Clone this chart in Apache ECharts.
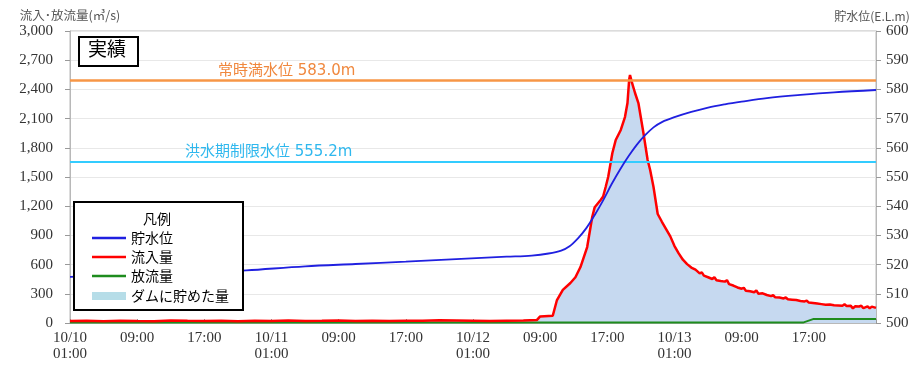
<!DOCTYPE html>
<html>
<head>
<meta charset="utf-8">
<script src="https://cdn.jsdelivr.net/npm/echarts@6/dist/echarts.min.js"></script>
<style>html,body{margin:0;padding:0;background:#fff}#c{width:922px;height:368px}</style>
</head>
<body>
<div id="c"></div>
<script>
// x = hours from 10/10 01:00
var xTickLabels = ['10/10\n01:00','09:00','17:00','10/11\n01:00','09:00','17:00','10/12\n01:00','09:00','17:00','10/13\n01:00','09:00','17:00',''];
var storageLevel = [[0,515.8],[6,516.4],[12,517.0],[18,517.6],[21,518.0],[28,519.4],[34,520.2],[40,521.0],[46,521.9],[52,522.7],[55,523.1],[57,523.8],[58.5,524.8],[59.5,526.3],[60.5,529.0],[61.5,532.5],[62.5,537.0],[63.5,542.0],[64.5,547.5],[65.5,552.5],[66.5,557.0],[67.5,561.0],[68.5,564.3],[69.5,567.0],[70.5,568.8],[72,570.5],[74,572.3],[76,573.8],[78,574.9],[80,575.8],[83,577.0],[87,578.1],[91,579.0],[96,579.8]];
var inflow = [[0,20],[2,22],[4,18],[6,24],[8,21],[10,19],[12,25],[14,22],[16,20],[18,23],[20,19],[22,24],[24,21],[26,25],[28,20],[30,22],[32,26],[34,21],[36,23],[38,20],[40,24],[42,22],[44,27],[46,25],[48,23],[50,21],[52,24],[54,26],[55.6,30],[56.0,68],[57.5,75],
 [58.0,236],[58.7,340],[59.6,411],[60.2,470],[60.8,575],[61.6,780],[62.2,1089],[62.5,1190],[63.2,1264],[63.5,1300],[63.8,1397],[64.1,1500],[64.3,1520],[64.6,1747],[65.0,1880],[65.6,1983],[66.1,2116],[66.4,2260],[66.6,2500],[66.7,2548],[66.9,2480],[67.1,2466],[67.3,2363],[67.7,2260],[68.3,1952],[68.8,1675],[69.1,1572],[69.5,1397],
 [70.0,1120],[70.5,1040],[71.0,965],[71.5,890],[72.0,790],[72.5,715],[73.0,650],[73.5,605],[74.0,570],[74.5,548],[75.0,510],[75.25,520],[75.5,486],[76.0,470],[76.5,452],[76.75,470],[77.0,440],[77.5,432],[78.0,425],[78.25,440],[78.5,400],[79.0,385],[79.5,365],[80.0,352],[80.25,362],[80.5,332],[81.0,326],[81.5,316],[81.75,335],[82.0,300],[82.5,305],[83.0,288],[83.5,276],[83.75,285],[84.0,264],[84.5,262],[85.0,252],[85.25,262],[85.5,244],[86.0,240],[86.5,236],[87.0,226],[87.5,222],[87.75,230],[88.0,210],[88.5,206],[89.0,200],[89.5,194],[90.0,188],[90.5,190],[91.0,182],[91.5,180],[92.0,178],[92.25,192],[92.5,175],[93.0,176],[93.25,150],[93.5,172],[94.0,170],[94.25,178],[94.5,152],[95.0,170],[95.25,150],[95.5,168],[96.0,155]];
var outflow = [[0,4],[87.3,4],[88.5,40],[96,41]];
var fullLevel = 583.0, floodLevel = 555.2;

var chart = echarts.init(document.getElementById('c'));
var serif = '"Liberation Serif","DejaVu Serif",serif';
var jp = '"Noto Sans CJK JP","Noto Sans",sans-serif';
var mlFont = '"DejaVu Sans","Noto Sans CJK JP",sans-serif';
chart.setOption({
  animation: false,
  grid: {left: 70, right: 46, top: 31, bottom: 45, show: true, borderColor: '#b8b8b8', borderWidth: 1},
  xAxis: {type: 'value', min: 0, max: 96, interval: 8,
    axisLine: {show: true, onZero: false, lineStyle: {color: '#b8b8b8'}},
    axisTick: {show: true, inside: true, length: 4, lineStyle: {color: '#999'}},
    splitLine: {show: false},
    axisLabel: {fontFamily: serif, fontSize: 15, color: '#333', lineHeight: 16, margin: 7, showMaxLabel: true,
      formatter: function (v) { return xTickLabels[Math.round(v / 8)] || ''; }}
  },
  yAxis: [
    {type: 'value', min: 0, max: 3000, interval: 300, name: '流入･放流量(㎥/s)', nameGap: 9,
      nameTextStyle: {fontFamily: jp, fontSize: 12.5, color: '#555', align: 'center'},
      axisLine: {show: true, lineStyle: {color: '#b8b8b8'}},
      axisTick: {show: true, length: 5, lineStyle: {color: '#999'}},
      splitLine: {lineStyle: {color: '#e8e8e8'}},
      axisLabel: {fontFamily: serif, fontSize: 15, color: '#333', margin: 17,
        formatter: function (v) { return v.toLocaleString('en-US'); }}
    },
    {type: 'value', min: 500, max: 600, interval: 10, name: '貯水位(E.L.m)', nameGap: 9,
      nameTextStyle: {fontFamily: jp, fontSize: 12, color: '#555', align: 'center', padding: [0, 0, 0, -8]},
      axisLine: {show: true, lineStyle: {color: '#b8b8b8'}},
      axisTick: {show: true, length: 5, lineStyle: {color: '#999'}},
      splitLine: {show: false},
      axisLabel: {fontFamily: serif, fontSize: 15, color: '#333', margin: 10}
    }
  ],
  legend: [
    {data: [{name: '貯水位', icon: 'rect'}, {name: '流入量', icon: 'rect'}, {name: '放流量', icon: 'rect'}],
      orient: 'vertical', left: 87, top: 226, itemWidth: 34, itemHeight: 2.5, itemGap: 5, itemTextGap: 10,
      textStyle: {fontFamily: jp, fontSize: 14, color: '#000'}, selectedMode: false, z: 20},
    {data: [{name: 'ダムに貯めた量', icon: 'rect'}],
      orient: 'vertical', left: 87, top: 284, itemWidth: 34, itemHeight: 8, itemTextGap: 10,
      textStyle: {fontFamily: jp, fontSize: 14, color: '#000'}, selectedMode: false, z: 20}
  ],
  graphic: [
    {type: 'rect', left: 73, top: 201, z: 15, shape: {width: 169, height: 108}, style: {fill: '#fff', stroke: '#000', lineWidth: 2}},
    {type: 'text', left: 143, top: 212, z: 16, style: {text: '凡例', font: '14px "Noto Sans CJK JP"', fill: '#000'}},
    {type: 'rect', left: 78, top: 36, z: 15, shape: {width: 59, height: 29}, style: {fill: '#fff', stroke: '#000', lineWidth: 2}},
    {type: 'text', left: 88, top: 39, z: 16, style: {text: '実績', font: '19px "Noto Sans CJK JP"', fill: '#000'}}
  ],
  series: [
    {name: 'ダムに貯めた量', type: 'line', yAxisIndex: 0, data: inflow, symbol: 'none',
      itemStyle: {color: '#B6DDE8'}, lineStyle: {width: 0}, areaStyle: {color: '#C6D9F0', opacity: 1}, z: 1},
    {name: '放流量', type: 'line', yAxisIndex: 0, data: outflow, symbol: 'none',
      itemStyle: {color: '#1E8C1E'}, lineStyle: {color: '#1E8C1E', width: 2}, z: 3},
    {name: '流入量', type: 'line', yAxisIndex: 0, data: inflow, symbol: 'none',
      itemStyle: {color: '#FF0000'}, lineStyle: {color: '#FF0000', width: 2.5}, z: 4},
    {name: '貯水位', type: 'line', yAxisIndex: 1, data: storageLevel, symbol: 'none', smooth: 0.35,
      itemStyle: {color: '#2020E0'}, lineStyle: {color: '#2020E0', width: 1.8}, z: 5,
      markLine: {silent: true, symbol: 'none',
        data: [
          {yAxis: fullLevel, lineStyle: {color: '#F79646', width: 2.5, type: 'solid'},
            label: {formatter: '常時満水位 583.0m', position: 'insideStartTop', distance: [148, 2], color: '#F0883E', fontFamily: mlFont, fontSize: 15}},
          {yAxis: floodLevel, lineStyle: {color: '#33CCFF', width: 2, type: 'solid'},
            label: {formatter: '洪水期制限水位 555.2m', position: 'insideStartTop', distance: [115, 2], color: '#2FB8EE', fontFamily: mlFont, fontSize: 15}}
        ]}
    }
  ]
});
</script>
</body>
</html>
